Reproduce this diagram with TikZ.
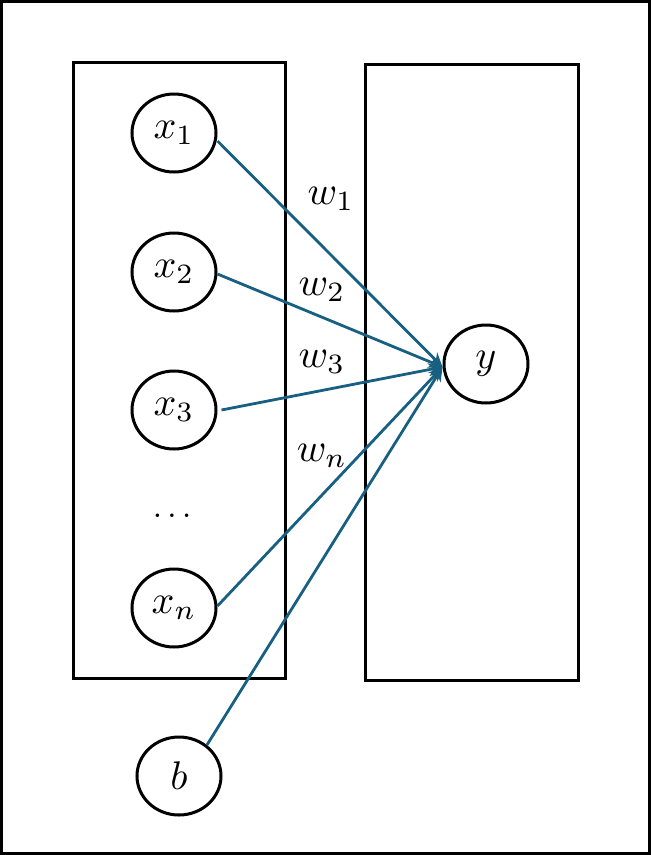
\documentclass[tikz,border=0pt]{standalone}
\usetikzlibrary{shapes.geometric,arrows.meta}
\definecolor{edgeblue}{RGB}{24,96,130}
\newcommand{\bigmath}[1]{\scalebox{4}{$#1$}}
\begin{document}
\begin{tikzpicture}[x=1pt,y=-1pt,
  neuron/.style={draw=black,line width=3pt,ellipse,minimum width=84pt,minimum height=78pt,inner sep=0pt},
  frame/.style={draw=black,line width=3pt},
  conn/.style={draw=edgeblue,line width=2.8pt,-{Stealth[length=14pt,width=13pt]}},
  wlabel/.style={inner sep=0pt}]
\useasboundingbox (0,0) rectangle (651,855);
\draw[frame] (1.5,1.5) rectangle (649.5,853.5);
\draw[frame] (73,62) rectangle (285,678);
\draw[frame] (365,64) rectangle (578,680);
\node[neuron] (x1) at (174,133) {\bigmath{x_1}};
\node[neuron] (x2) at (174,272) {\bigmath{x_2}};
\node[neuron] (x3) at (174,410) {\bigmath{x_3}};
\node (dots) at (172,516) {\scalebox{3.3}{$\ldots$}};
\node[neuron] (xn) at (174,608) {\bigmath{x_n}};
\node[neuron] (b) at (179,776) {\bigmath{b}};
\node[neuron] (y) at (486,364) {\bigmath{y}};
\node[wlabel] (w1) at (331,199) {\bigmath{w_1}};
\node[wlabel] (w2) at (322,290) {\bigmath{w_2}};
\node[wlabel] (w3) at (322,362) {\bigmath{w_3}};
\node[wlabel] (wn) at (322,456) {\bigmath{w_n}};
\draw[conn] ([yshift=-8pt]x1.east) -- ([yshift=-3pt]y.west);
\draw[conn] ([yshift=-2pt]x2.east) -- ([yshift=-3pt]y.west);
\draw[conn] ([xshift=4pt]x3.east) -- ([yshift=-3pt]y.west);
\draw[conn] ([yshift=2pt]xn.east) -- ([yshift=-3pt]y.west);
\draw[conn] (b.48) -- ([yshift=-3pt]y.west);
\end{tikzpicture}
\end{document}
